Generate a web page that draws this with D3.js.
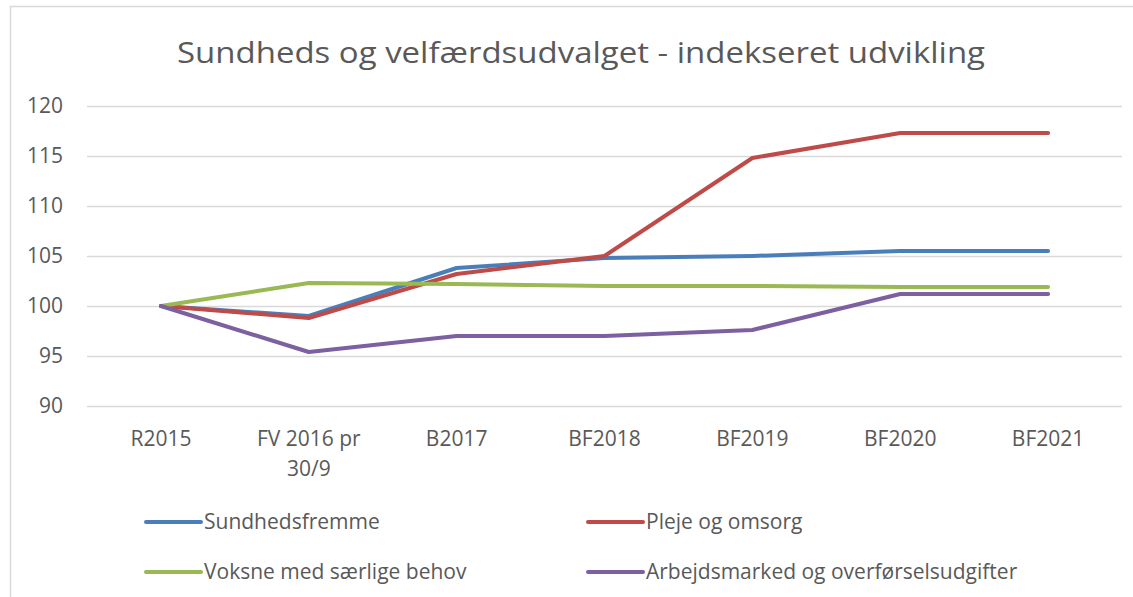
<!DOCTYPE html>
<meta charset="utf-8">
<style>
body { margin: 0; background: #fff; font-family: 'Open Sans', sans-serif; }
.axis .domain { display: none; }
.axis text { fill: #595959; font-size: 21px; font-family: 'Open Sans', sans-serif; }
.y.axis line { stroke: #d9d9d9; stroke-width: 1.5; }
.x.axis line { display: none; }
</style>
<svg width="1133" height="597"></svg>
<script src="https://d3js.org/d3.v7.min.js"></script>
<script>
var categories = ["R2015", "FV 2016 pr 30/9", "B2017", "BF2018", "BF2019", "BF2020", "BF2021"];
var seriesNames = ["Sundhedsfremme", "Pleje og omsorg", "Voksne med særlige behov", "Arbejdsmarked og overførselsudgifter"];
var sundhedsfremme = [100, 99.0, 103.8, 104.8, 105.0, 105.5, 105.5];
var plejeOmsorg    = [100, 98.8, 103.2, 105.0, 114.8, 117.3, 117.3];
var voksneBehov    = [100, 102.3, 102.2, 102.0, 102.0, 101.9, 101.9];
var arbejdsmarked  = [100, 95.4, 97.0, 97.0, 97.6, 101.2, 101.2];
var yTicks = [90, 95, 100, 105, 110, 115, 120];
var colors = ["#4a7ebb", "#be4b48", "#98b954", "#7d60a0"];

var series = [sundhedsfremme, plejeOmsorg, voksneBehov, arbejdsmarked];

var svg = d3.select("svg"),
    plotLeft = 87, plotRight = 1122, plotTop = 106, plotBottom = 406;

// chart frame
svg.append("rect")
    .attr("x", 10.5).attr("y", 6.5)
    .attr("width", 1140).attr("height", 620)
    .attr("fill", "#fff")
    .attr("stroke", "#d9d9d9")
    .attr("stroke-width", 1.5);

// title
svg.append("text")
    .attr("x", 581)
    .attr("y", 63)
    .attr("text-anchor", "middle")
    .attr("fill", "#595959")
    .attr("font-size", 29)
    .attr("textLength", 808)
    .attr("lengthAdjust", "spacingAndGlyphs")
    .text("Sundheds og velfærdsudvalget - indekseret udvikling");

var x = d3.scaleBand()
    .domain(categories)
    .range([plotLeft, plotRight]);

var y = d3.scaleLinear()
    .domain([90, 120])
    .range([plotBottom, plotTop]);

// y axis with gridlines
svg.append("g")
    .attr("class", "y axis")
    .attr("transform", "translate(" + plotLeft + ",0)")
    .call(d3.axisLeft(y).tickValues(yTicks).tickSize(-(plotRight - plotLeft)).tickPadding(24));

// x axis
svg.append("g")
    .attr("class", "x axis")
    .attr("transform", "translate(0," + plotBottom + ")")
    .call(d3.axisBottom(x).tickSize(0).tickPadding(25))
  .selectAll("text")
    .call(wrap, 125);

function wrap(text, width) {
  text.each(function() {
    var t = d3.select(this),
        words = t.text().split(/\s+/),
        yy = t.attr("y"),
        dy = parseFloat(t.attr("dy")),
        line = [], lineNo = 0,
        tspan = t.text(null).append("tspan").attr("x", 0).attr("y", yy).attr("dy", dy + "em");
    words.forEach(function(w) {
      line.push(w);
      tspan.text(line.join(" "));
      if (tspan.node().getComputedTextLength() > width && line.length > 1) {
        line.pop();
        tspan.text(line.join(" "));
        line = [w];
        tspan = t.append("tspan").attr("x", 0).attr("y", yy)
            .attr("dy", (++lineNo * 1.42 + dy) + "em").text(w);
      }
    });
  });
}

var line = d3.line()
    .x(function(d, i) { return x(categories[i]) + x.bandwidth() / 2; })
    .y(function(d) { return y(d); });

svg.append("g")
  .selectAll("path")
  .data(series)
  .enter().append("path")
    .attr("fill", "none")
    .attr("stroke", function(d, i) { return colors[i]; })
    .attr("stroke-width", 4)
    .attr("stroke-linejoin", "round")
    .attr("stroke-linecap", "round")
    .attr("d", line);

// legend, two columns
var legend = svg.append("g")
  .selectAll("g")
  .data(seriesNames)
  .enter().append("g")
    .attr("transform", function(d, i) {
      return "translate(" + (i % 2 ? 588 : 146) + "," + (i < 2 ? 522 : 572) + ")";
    });

legend.append("line")
    .attr("x1", 0).attr("x2", 55)
    .attr("stroke", function(d, i) { return colors[i]; })
    .attr("stroke-width", 4)
    .attr("stroke-linecap", "round");

legend.append("text")
    .attr("x", 58)
    .attr("dy", "0.35em")
    .attr("fill", "#595959")
    .attr("font-size", 21)
    .text(function(d) { return d; });
</script>
